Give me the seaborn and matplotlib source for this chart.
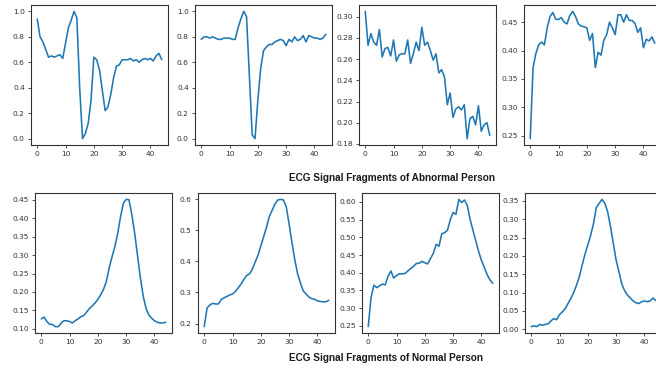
import numpy as np
import pandas as pd
import matplotlib
matplotlib.use('Agg')
import matplotlib.pyplot as plt
from matplotlib.ticker import MultipleLocator
import seaborn as sns

# sample index of each fragment
samples = list(range(45))

abnormal_1 = [0.94, 0.80, 0.76, 0.70, 0.64, 0.65, 0.64, 0.65, 0.66, 0.63,
              0.75, 0.87, 0.93, 1.00, 0.95, 0.40, 0.00, 0.04, 0.12, 0.30,
              0.64, 0.62, 0.54, 0.38, 0.22, 0.25, 0.35, 0.48, 0.57, 0.58,
              0.62, 0.62, 0.62, 0.63, 0.61, 0.62, 0.60, 0.62, 0.63, 0.62,
              0.63, 0.61, 0.65, 0.67, 0.62]
abnormal_2 = [0.78, 0.80, 0.80, 0.79, 0.80, 0.79, 0.78, 0.78, 0.79, 0.79,
              0.79, 0.78, 0.78, 0.87, 0.94, 1.00, 0.96, 0.50, 0.03, 0.00,
              0.30, 0.55, 0.69, 0.72, 0.74, 0.74, 0.76, 0.77, 0.78, 0.77,
              0.73, 0.78, 0.76, 0.80, 0.77, 0.78, 0.81, 0.76, 0.81, 0.80,
              0.79, 0.79, 0.78, 0.79, 0.82]
abnormal_3 = [0.305, 0.273, 0.284, 0.276, 0.273, 0.288, 0.262, 0.270, 0.271, 0.263,
              0.278, 0.258, 0.264, 0.265, 0.265, 0.278, 0.256, 0.265, 0.276, 0.268,
              0.290, 0.273, 0.276, 0.268, 0.259, 0.265, 0.247, 0.250, 0.243, 0.217,
              0.228, 0.205, 0.213, 0.215, 0.212, 0.217, 0.185, 0.204, 0.206, 0.198,
              0.216, 0.192, 0.198, 0.200, 0.188]
abnormal_4 = [0.245, 0.370, 0.395, 0.410, 0.415, 0.410, 0.440, 0.460, 0.467, 0.455,
              0.455, 0.458, 0.450, 0.447, 0.462, 0.469, 0.460, 0.447, 0.443, 0.442,
              0.440, 0.418, 0.430, 0.370, 0.397, 0.392, 0.418, 0.428, 0.450, 0.440,
              0.428, 0.463, 0.463, 0.450, 0.463, 0.453, 0.453, 0.448, 0.432, 0.440,
              0.405, 0.420, 0.417, 0.424, 0.413]

normal_1 = [0.127, 0.132, 0.120, 0.112, 0.112, 0.106, 0.106, 0.115, 0.122, 0.122,
            0.120, 0.116, 0.122, 0.127, 0.133, 0.136, 0.145, 0.155, 0.162, 0.170,
            0.180, 0.192, 0.207, 0.228, 0.265, 0.295, 0.322, 0.358, 0.403, 0.440,
            0.451, 0.450, 0.410, 0.360, 0.300, 0.240, 0.190, 0.156, 0.138, 0.129,
            0.122, 0.118, 0.116, 0.116, 0.118]
normal_2 = [0.190, 0.250, 0.260, 0.265, 0.263, 0.263, 0.277, 0.283, 0.287, 0.292,
            0.295, 0.303, 0.315, 0.327, 0.342, 0.355, 0.360, 0.375, 0.398, 0.420,
            0.450, 0.480, 0.510, 0.545, 0.565, 0.585, 0.598, 0.600, 0.598, 0.575,
            0.520, 0.460, 0.405, 0.360, 0.330, 0.305, 0.295, 0.285, 0.280, 0.278,
            0.273, 0.271, 0.270, 0.270, 0.275]
normal_3 = [0.248, 0.330, 0.365, 0.358, 0.363, 0.368, 0.366, 0.390, 0.405, 0.385,
            0.392, 0.397, 0.397, 0.398, 0.405, 0.412, 0.418, 0.426, 0.427, 0.432,
            0.428, 0.425, 0.440, 0.455, 0.480, 0.475, 0.510, 0.513, 0.520, 0.550,
            0.570, 0.565, 0.607, 0.598, 0.605, 0.590, 0.550, 0.520, 0.490, 0.460,
            0.435, 0.415, 0.395, 0.380, 0.370]
normal_4 = [0.007, 0.009, 0.007, 0.013, 0.011, 0.013, 0.015, 0.023, 0.029, 0.026,
            0.040, 0.047, 0.056, 0.070, 0.084, 0.100, 0.120, 0.143, 0.175, 0.205,
            0.230, 0.256, 0.288, 0.332, 0.343, 0.354, 0.343, 0.320, 0.280, 0.234,
            0.188, 0.156, 0.123, 0.105, 0.093, 0.085, 0.077, 0.072, 0.070, 0.075,
            0.077, 0.075, 0.077, 0.085, 0.078]

abnormal = [abnormal_1, abnormal_2, abnormal_3, abnormal_4]
normal = [normal_1, normal_2, normal_3, normal_4]

abnormal_steps = [0.2, 0.2, 0.02, 0.05]
normal_steps = [0.05, 0.1, 0.05, 0.05]

sns.set_style('ticks')
plt.rcParams['font.family'] = ['DejaVu Sans']

W, H = 656, 369
fig = plt.figure(figsize=(W / 100, H / 100), dpi=100)

top_left = [31, 195, 359, 524]
bottom_left = [35, 198, 362, 525]
panel_w = 137


def draw_row(signals, steps, lefts, y0, y1):
    for sig, step, left in zip(signals, steps, lefts):
        ax = fig.add_axes([left / W, 1 - y1 / H, panel_w / W, (y1 - y0) / H])
        df = pd.DataFrame({'sample': samples, 'value': sig})
        sns.lineplot(data=df, x='sample', y='value', ax=ax, color='#1f77b4', lw=1.15)
        ax.set_xlabel('')
        ax.set_ylabel('')
        ax.margins(x=0.05, y=0.05)
        ax.xaxis.set_major_locator(MultipleLocator(10))
        ax.yaxis.set_major_locator(MultipleLocator(step))
        ax.tick_params(labelsize=5.4, length=2.5, width=0.6, pad=2, colors='#333333')
        for s in ax.spines.values():
            s.set_linewidth(0.8)
            s.set_color('#333333')


draw_row(abnormal, abnormal_steps, top_left, 5, 145)
draw_row(normal, normal_steps, bottom_left, 193, 333)

fig.text(392 / W, 1 - 178 / H, 'ECG Signal Fragments of Abnormal Person',
         ha='center', va='center', fontsize=7.2, fontweight='bold',
         family=['Liberation Sans', 'DejaVu Sans'], color='#1a1a1a')
fig.text(386 / W, 1 - 358 / H, 'ECG Signal Fragments of Normal Person',
         ha='center', va='center', fontsize=7.2, fontweight='bold',
         family=['Liberation Sans', 'DejaVu Sans'], color='#1a1a1a')

fig.savefig('out.png', dpi=100)
